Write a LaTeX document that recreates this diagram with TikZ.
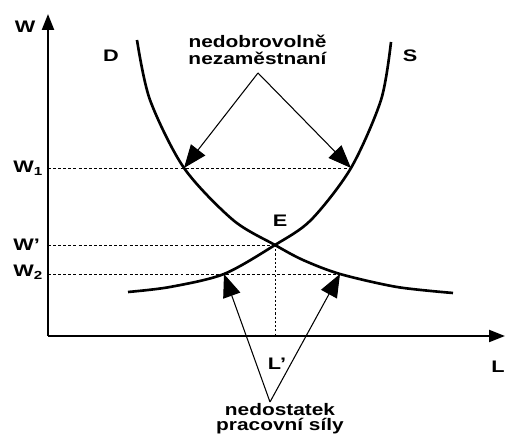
\documentclass[tikz,border=0pt]{standalone}
\usepackage{fontspec}
\setmainfont{Liberation Sans}
\usetikzlibrary{arrows.meta,positioning}
\tikzset{
  axis/.style={-{Triangle[length=0.32cm,width=0.24cm]}, line width=1.2pt},
  curve/.style={line width=1.5pt},
  guide/.style={line width=0.5pt, dash pattern=on 1.7pt off 1.2pt},
  pointer/.style={-{Triangle[length=0.46cm,width=0.36cm]}, line width=0.6pt},
  lab/.style={font=\fontsize{9.5}{10}\selectfont\bfseries, inner sep=0pt, xscale=1.3},
  note/.style={font=\fontsize{9.5}{9.8}\selectfont\bfseries, align=center, inner sep=0pt, xscale=1.25}
}

\begin{document}
\begin{tikzpicture}
  \useasboundingbox (0,0) rectangle (10.16,8.7);
  \coordinate (O) at (0.96,1.98);
  \coordinate (Wtop) at (0.96,8.42);
  \coordinate (Lend) at (10.1,1.98);
  \coordinate (E) at (5.50,3.80);
  \coordinate (D1) at (3.68,5.34);
  \coordinate (S1) at (7.02,5.34);
  \coordinate (D2) at (6.80,3.22);
  \coordinate (S2) at (4.48,3.22);
  % axes
  \draw[axis] (O) -- (Wtop);
  \draw[axis] (O) -- (Lend);
  % demand and supply
  \draw[curve] plot[smooth] coordinates {(2.74,7.90) (3.00,6.70) (D1) (4.66,4.30) (E) (6.06,3.50) (D2) (7.94,2.96) (9.06,2.84)};
  \draw[curve] plot[smooth] coordinates {(2.56,2.86) (3.40,2.96) (S2) (E) (6.22,4.30) (S1) (7.62,6.70) (7.82,7.86)};
  % guide lines
  \draw[guide] (O |- D1) -- (S1);
  \draw[guide] (O |- E) -- (E);
  \draw[guide] (O |- D2) -- (D2);
  \draw[guide, dash pattern=on 1.2pt off 1.2pt] (E) -- (E |- O);
  % labels
  \node[lab] (w) at (0.50,8.16) {W};
  \node[lab, anchor=west] (w1) at (0.26,5.34) {W\textsubscript{1}};
  \node[lab, anchor=west] (wE) at (0.26,3.80) {W'};
  \node[lab, anchor=west] (w2) at (0.26,3.26) {W\textsubscript{2}};
  \node[lab] (d) at (2.22,7.58) {D};
  \node[lab] (s) at (8.20,7.58) {S};
  \node[lab] (e) at (5.60,4.28) {E};
  \node[lab] (l) at (9.96,1.36) {L};
  \node[lab] (lE) at (5.54,1.42) {L'};
  % notes with pointers
  \node[note] (unemp) at (5.15,7.70) {nedobrovolně\\nezaměstnaní};
  \coordinate (uTip) at (5.16,7.24);
  \draw[pointer] (uTip) -- (D1);
  \draw[pointer] (uTip) -- (S1);
  \node[note, font=\fontsize{9.5}{8.6}\selectfont\bfseries] (short) at (5.60,0.32) {nedostatek\\pracovní síly};
  \coordinate (sTip) at (5.40,0.66);
  \draw[pointer] (sTip) -- (S2);
  \draw[pointer] (sTip) -- (D2);
\end{tikzpicture}
\end{document}
